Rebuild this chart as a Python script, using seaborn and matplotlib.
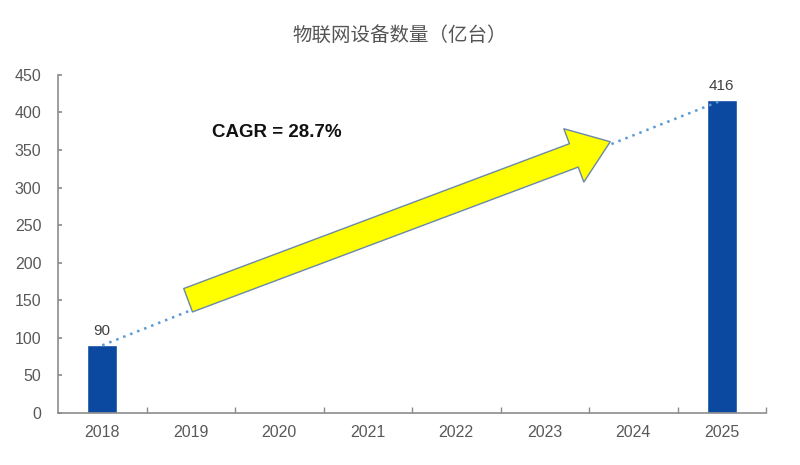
import matplotlib
matplotlib.use("Agg")
import matplotlib.pyplot as plt
import seaborn as sns
import pandas as pd
from matplotlib.patches import FancyArrowPatch
from matplotlib.ticker import MultipleLocator

# -------------------------------
# Data
# -------------------------------
all_years = ["2018", "2019", "2020", "2021", "2022", "2023", "2024", "2025"]
bar_years = ["2018", "2025"]
devices = [90, 416]
title = "物联网设备数量（亿台）"
cagr_label = "CAGR = 28.7%"

df = pd.DataFrame({"year": bar_years, "devices": devices})

sns.set_theme(style="white")
plt.rcParams["font.family"] = ["Noto Sans CJK SC", "DejaVu Sans"]

fig = plt.figure(figsize=(8, 4.65), dpi=100)
ax = fig.add_axes([0.0725, 0.112, 0.885, 0.727])

sns.barplot(data=df, x="year", y="devices", order=all_years,
            color="#0B49A0", saturation=1, width=0.34, ax=ax)

for c in ax.containers:
    ax.bar_label(c, labels=[str(v) for v in devices], padding=5,
                 fontsize=11, color="#404040",
                 family=["Liberation Sans", "DejaVu Sans"])

# dotted trend line between bar tops
pos = [all_years.index(y) for y in bar_years]
ax.plot(pos, devices, linestyle=(0, (1, 2)), color="#5B9BD5", lw=1.8, zorder=3)

# big yellow arrow
arrow = FancyArrowPatch((0.97, 150), (5.74, 361),
                        arrowstyle="simple,head_length=1.4,head_width=2.05,tail_width=0.9",
                        mutation_scale=20, fc="#FFFF00", ec="#6A89A8", lw=1.0,
                        shrinkA=0, shrinkB=0, zorder=4)
ax.add_patch(arrow)

ax.text(1.24, 373, cagr_label, fontsize=13.5, fontweight="bold",
        family=["Liberation Sans", "DejaVu Sans"], color="#111111",
        va="center", ha="left")

ax.set_xlim(-0.5, 7.5)
ax.set_ylim(0, 450)
ax.yaxis.set_major_locator(MultipleLocator(50))
ax.set_xlabel("")
ax.set_ylabel("")

for s in ["top", "right"]:
    ax.spines[s].set_visible(False)
for s in ["left", "bottom"]:
    ax.spines[s].set_color("#8C8C8C")
    ax.spines[s].set_linewidth(1.2)

for lab in ax.get_xticklabels() + ax.get_yticklabels():
    lab.set_family(["Liberation Sans", "DejaVu Sans"])

ax.tick_params(axis="y", direction="in", length=3, color="#8C8C8C",
               labelsize=11.5, labelcolor="#595959", left=True, pad=12)
ax.tick_params(axis="x", which="major", length=0, labelsize=11.5,
               labelcolor="#595959", pad=9)
ax.set_xticks([i + 0.5 for i in range(len(all_years))], minor=True)
ax.tick_params(axis="x", which="minor", direction="in", length=4,
               color="#8C8C8C", bottom=True)

fig.text(0.5, 0.925, title, ha="center", va="center", fontsize=14,
         color="#555555")

fig.savefig("out.png", dpi=100)
plt.close(fig)
